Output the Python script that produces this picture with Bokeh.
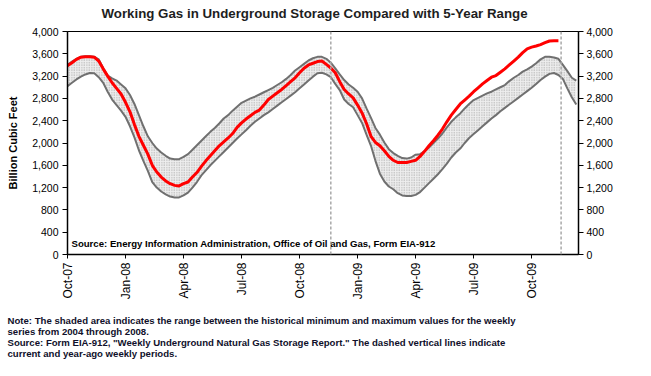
from bokeh.plotting import figure
from bokeh.models import (Range1d, LinearAxis, FixedTicker, NumeralTickFormatter,
                          Label, Span)
from bokeh.layouts import column
from bokeh.embed import file_html
from bokeh.resources import INLINE
import math

# ---------------- data (Bcf, weekly index from Oct-07) ----------------
tick_weeks = [0, 13, 26, 39, 52, 65, 78, 91, 104]
tick_labels = ["Oct-07", "Jan-08", "Apr-08", "Jul-08", "Oct-08",
               "Jan-09", "Apr-09", "Jul-09", "Oct-09"]

storage_2007_2009 = [
    3387, 3440, 3500, 3540, 3545, 3545, 3540, 3470, 3330, 3200,
    3080, 2980, 2880, 2730, 2560, 2330, 2120, 1960, 1800, 1600,
    1480, 1390, 1320, 1270, 1240, 1230, 1270, 1300, 1390, 1470,
    1580, 1680, 1770, 1860, 1950, 2020, 2090, 2170, 2280, 2360,
    2430, 2490, 2550, 2590, 2680, 2780, 2840, 2900, 2960, 3030,
    3100, 3170, 3260, 3340, 3400, 3430, 3460, 3470, 3410, 3345,
    3260, 3100, 2960, 2880, 2810, 2680, 2540, 2350, 2120, 2010,
    1950, 1860, 1760, 1690, 1650, 1650, 1650, 1670, 1690, 1760,
    1850, 1950, 2040, 2140, 2250, 2380, 2500, 2600, 2700, 2770,
    2840, 2920, 2990, 3060, 3120, 3180, 3210, 3270, 3330, 3400,
    3470, 3540, 3620, 3690, 3720, 3740, 3765, 3800, 3830, 3835,
    3835,
]

five_year_max = [
    3400, 3460, 3510, 3545, 3555, 3555, 3545, 3500, 3340, 3210,
    3160, 3120, 3050, 2980, 2860, 2700, 2500, 2300, 2120, 2000,
    1900, 1830, 1770, 1720, 1710, 1710, 1750, 1800, 1880, 1960,
    2040, 2120, 2200, 2270, 2350, 2440, 2500, 2580, 2650, 2720,
    2760, 2800, 2830, 2870, 2910, 2950, 2990, 3040, 3090, 3150,
    3220, 3300, 3360, 3420, 3480, 3520, 3545, 3545, 3510, 3440,
    3340, 3230, 3130, 3050, 2990, 2920, 2800, 2620, 2450, 2270,
    2150, 2010, 1890, 1820, 1770, 1730, 1720, 1740, 1790, 1800,
    1850, 1920, 2000, 2080, 2170, 2280, 2380, 2460, 2530, 2620,
    2700, 2770, 2810, 2850, 2890, 2920, 2960, 3000, 3040, 3110,
    3170, 3220, 3280, 3320, 3370, 3430, 3500, 3545, 3545, 3535,
    3510, 3400, 3290, 3170, 3120,
]

five_year_min = [
    3018, 3080, 3140, 3190, 3230, 3256, 3250, 3180, 3080, 2920,
    2780, 2680, 2580, 2470, 2300, 2100, 1870, 1680, 1500, 1300,
    1200, 1130, 1080, 1040, 1024, 1024, 1060, 1110, 1200, 1300,
    1420, 1510, 1600, 1680, 1760, 1840, 1920, 2000, 2080, 2155,
    2230, 2310, 2380, 2440, 2500, 2550, 2610, 2670, 2730, 2790,
    2850, 2910, 2980, 3050, 3120, 3190, 3250, 3260, 3230, 3180,
    3060, 2950, 2780, 2700, 2640, 2500, 2360, 2150, 1950, 1680,
    1450, 1310, 1220, 1170, 1100, 1060, 1050, 1050, 1070, 1120,
    1200, 1280, 1360, 1440, 1530, 1630, 1740, 1830, 1900, 2000,
    2090, 2160, 2230, 2300, 2370, 2440, 2500, 2570, 2630, 2690,
    2750, 2810, 2870, 2930, 2990, 3060, 3130, 3190, 3240, 3256,
    3220, 3150, 2980, 2820, 2690,
]

year_ago_week = 59
current_week = 110.6

weeks_storage = list(range(len(storage_2007_2009)))
weeks_band = list(range(len(five_year_max)))

title_text = "Working Gas in Underground Storage Compared with 5-Year Range"
source_inside = "Source:  Energy Information Administration, Office of Oil and Gas, Form EIA-912"
note_lines = [
    "Note: The shaded area indicates the range between the historical minimum and maximum values for the weekly",
    "series from 2004 through 2008.",
    "Source: Form EIA-912, \"Weekly Underground Natural Gas Storage Report.\" The dashed vertical lines indicate",
    "current and year-ago weekly periods.",
]

W = 635
TITLE_H = 26
MAIN_H = 286
NOTES_H = 48


def blank(h):
    f = figure(width=W, height=h, output_backend="svg", toolbar_location=None,
               x_axis_type=None, y_axis_type=None,
               x_range=Range1d(0, 1), y_range=Range1d(0, 1),
               min_border_left=0, min_border_right=0,
               min_border_top=0, min_border_bottom=0)
    f.frame_align = False
    f.outline_line_color = None
    f.xgrid.visible = False
    f.ygrid.visible = False
    f.background_fill_color = "white"
    f.border_fill_color = "white"
    return f


# ---------------- title strip ----------------
tfig = blank(TITLE_H)
tfig.add_layout(Label(x=314, y=13, x_units="screen", y_units="screen",
                      text=title_text, text_align="center",
                      text_baseline="middle", text_font="Liberation Sans",
                      text_font_size="13.3px", text_font_style="bold",
                      text_color="#1e1e1e"))

# ---------------- main chart ----------------
p = figure(width=W, height=MAIN_H, output_backend="svg", toolbar_location=None,
           x_range=Range1d(0, 114.5), y_range=Range1d(0, 4000),
           min_border_left=67, min_border_right=57, min_border_top=5,
           min_border_bottom=58, y_axis_label="Billion Cubic Feet")
p.frame_align = False
p.background_fill_color = "white"
p.border_fill_color = "white"
p.outline_line_color = "black"
p.outline_line_width = 1
p.xgrid.visible = False
p.ygrid.visible = False

p.varea(x=weeks_band, y1=five_year_min, y2=five_year_max,
        fill_color="#eeeeee", hatch_pattern="dot", hatch_color="#a0a0a0",
        hatch_scale=2.5, hatch_weight=1)
p.line(weeks_band, five_year_max, line_color="#707070", line_width=2)
p.line(weeks_band, five_year_min, line_color="#707070", line_width=2)
p.line(weeks_storage, storage_2007_2009, line_color="#ff0000", line_width=3)

for wk in (year_ago_week, current_week):
    p.add_layout(Span(location=wk, dimension="height", line_color="#a8a8a8",
                      line_width=1.5, line_dash="3 2"))

xa = p.xaxis[0]
xa.ticker = FixedTicker(ticks=tick_weeks)
xa.major_label_overrides = {w: l for w, l in zip(tick_weeks, tick_labels)}
xa.major_label_orientation = math.pi / 2
xa.minor_tick_line_color = None
xa.major_tick_in = 0
xa.major_tick_out = 4
xa.major_label_standoff = 4
xa.major_label_text_font = "Liberation Sans"
xa.major_label_text_font_size = "12px"
xa.major_label_text_color = "black"
xa.axis_line_color = "black"
xa.axis_line_width = 1.5

yticks = list(range(0, 4001, 400))
ya = p.yaxis[0]
ya.ticker = FixedTicker(ticks=yticks)
ya.formatter = NumeralTickFormatter(format="0,0")
ya.minor_tick_line_color = None
ya.major_tick_in = 0
ya.major_tick_out = 5
ya.major_label_standoff = 4
ya.major_label_text_font = "Liberation Sans"
ya.major_label_text_font_size = "10.5px"
ya.major_label_text_color = "black"
ya.axis_label_text_font = "Liberation Sans"
ya.axis_label_text_font_size = "11px"
ya.axis_label_text_font_style = "bold"
ya.axis_label_text_color = "black"
ya.axis_label_standoff = 10
ya.axis_line_color = "black"
ya.axis_line_width = 1.5

ra = LinearAxis(ticker=FixedTicker(ticks=yticks),
                formatter=NumeralTickFormatter(format="0,0"))
ra.minor_tick_line_color = None
ra.major_tick_in = 0
ra.major_tick_out = 5
ra.major_label_standoff = 3
ra.major_label_text_font = "Liberation Sans"
ra.major_label_text_font_size = "10.5px"
ra.major_label_text_color = "black"
ra.axis_line_color = "black"
ra.axis_line_width = 1.5
p.add_layout(ra, "right")

p.add_layout(Label(x=4, y=11, x_units="screen", y_units="screen",
                   text=source_inside, text_align="left",
                   text_baseline="middle", text_font="Liberation Sans",
                   text_font_size="9.6px", text_font_style="bold",
                   text_color="black"))

# ---------------- notes strip ----------------
nfig = blank(NOTES_H)
note_y = [40, 29, 18, 7]
for t, yy in zip(note_lines, note_y):
    nfig.add_layout(Label(x=7, y=yy, x_units="screen", y_units="screen",
                          text=t, text_align="left", text_baseline="middle",
                          text_font="Liberation Sans", text_font_size="9.6px",
                          text_font_style="bold", text_color="#10102a"))

layout = column(tfig, p, nfig, spacing=0)
open("out.html", "w").write(file_html(layout, INLINE))
